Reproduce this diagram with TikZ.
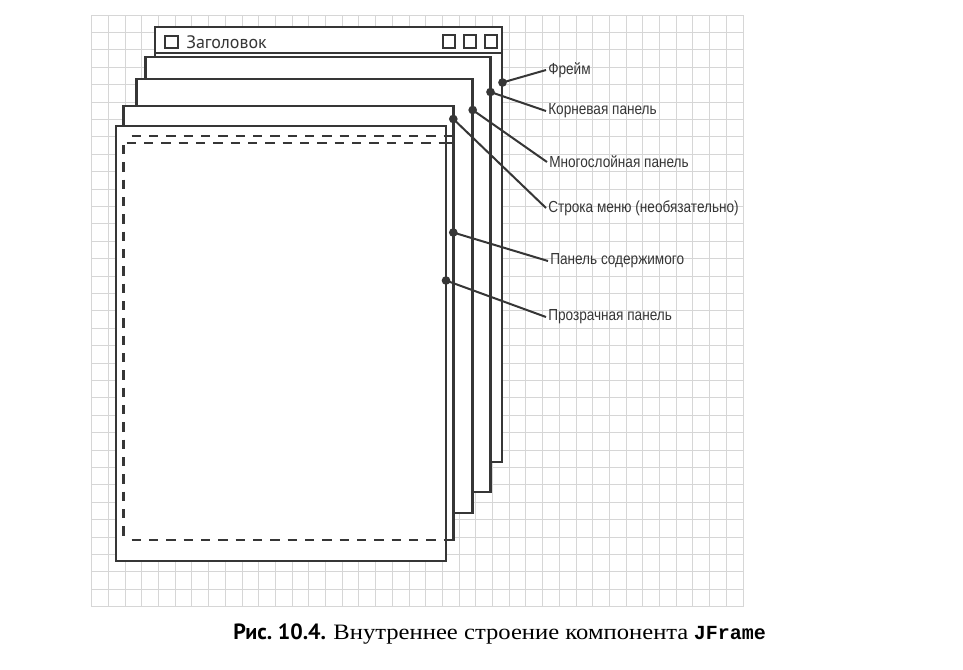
\documentclass[tikz,border=0pt]{standalone}
\usepackage{fontspec}
\setmainfont{Liberation Serif}
\newfontfamily\labelfont[FakeStretch=0.85]{Liberation Sans}
\newfontfamily\titlefont{PT Sans}
\newfontfamily\codefont{Liberation Mono}
\newfontfamily\capserif[FakeStretch=1.12]{Liberation Serif}
\definecolor{ink}{HTML}{363636}
\definecolor{gridgray}{HTML}{D6D6D6}

\begin{document}
\begin{tikzpicture}[x=0.75pt,y=-0.75pt,
  gridline/.style={draw=gridgray,line width=0.75pt},
  win/.style={draw=ink,fill=white,line width=1.9pt},
  btn/.style={draw=ink,line width=1.5pt},
  hidden/.style={draw=ink,line width=1.8pt,dash pattern=on 7pt off 6pt},
  edge/.style={draw=ink,line width=1.9pt},
  dot/.style={circle,fill=ink,inner sep=0pt,minimum size=6.5pt},
  conn/.style={draw=ink,line width=1.5pt},
  lbl/.style={anchor=west,inner sep=1.5pt,font=\labelfont\fontsize{12}{14}\selectfont,text=ink}]

\useasboundingbox (0,0) rectangle (963,669);

% graph-paper background
\foreach \i in {0,...,39}
  \draw[gridline] ({91.7+\i*16.7},15) -- ({91.7+\i*16.7},607);
\foreach \j in {0,...,34}
  \draw[gridline] (91.7,{15+\j*17.4}) -- (743,{15+\j*17.4});

% frame with its title bar
\draw[win] (155,27) rectangle (502,462);
\draw[edge] (155,53) -- (502,53);
\draw[btn] (165,36) rectangle (178,48);
\node[anchor=west,inner sep=0pt,font=\titlefont\fontsize{13.5}{15}\selectfont,text=ink] (title) at (186,42) {Заголовок};
\draw[btn] (443,35) rectangle (455,48);
\draw[btn] (464,35) rectangle (476,48);
\draw[btn] (485,35) rectangle (497,48);

% root pane and layered pane
\draw[win] (145.7,57) rectangle (490.5,492);
\draw[win] (136.7,79) rectangle (472.7,513);

% menu bar + content pane layer
\draw[win] (123.3,106) rectangle (453.3,540);
\draw[edge] (123.3,143) -- (453.3,143);

% glass pane on top
\draw[win] (116,126) rectangle (446,561);

% hidden outlines seen through the glass pane
\draw[hidden] (131.7,136) -- (452,136);
\draw[hidden] (126.7,143) -- (445,143);
\draw[hidden] (123.3,145) -- (123.3,537);
\draw[hidden] (131.7,540) -- (445,540);

% attachment points
\node[dot] (d1) at (502.5,82.5) {};
\node[dot] (d2) at (490.5,92) {};
\node[dot] (d3) at (472.7,110) {};
\node[dot] (d4) at (453.3,119) {};
\node[dot] (d5) at (453.3,232.5) {};
\node[dot] (d6) at (446,280.5) {};

% labels
\node[lbl] (l1) at (546,70) {Фрейм};
\node[lbl] (l2) at (546,111) {Корневая панель};
\node[lbl] (l3) at (547,162) {Многослойная панель};
\node[lbl] (l4) at (546,208) {Строка меню (необязательно)};
\node[lbl] (l5) at (548,261) {Панель содержимого};
\node[lbl] (l6) at (546,317) {Прозрачная панель};

\draw[conn] (d1.center) -- (l1.west);
\draw[conn] (d2.center) -- (l2.west);
\draw[conn] (d3.center) -- (l3.west);
\draw[conn] (d4.center) -- (l4.west);
\draw[conn] (d5.center) -- (l5.west);
\draw[conn] (d6.center) -- (l6.west);

% caption
\node[anchor=base west,inner sep=0pt,font=\fontsize{16.5}{19}\selectfont] (cap) at (233,639)
  {{\titlefont\bfseries Рис.~10.4.} {\capserif Внутреннее строение компонента} {\codefont\bfseries\fontsize{15}{19}\selectfont JFrame}};
\end{tikzpicture}
\end{document}
